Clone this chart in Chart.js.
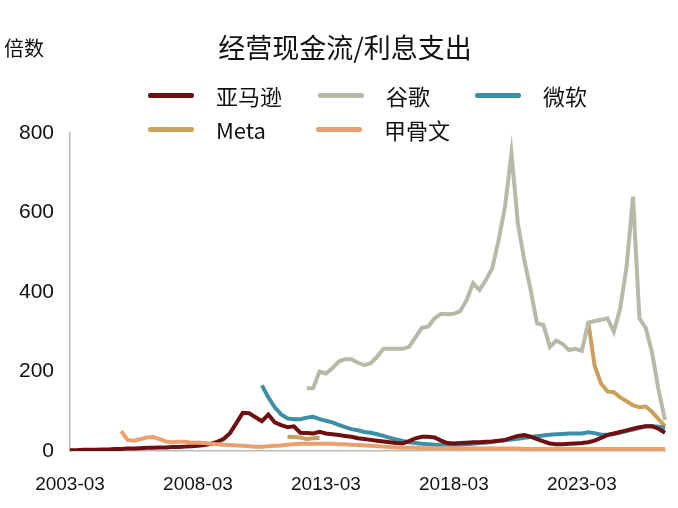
<!DOCTYPE html>
<html><head><meta charset="utf-8">
<script src="https://cdn.jsdelivr.net/npm/chart.js@4"></script>
<style>
body{margin:0;background:#fff;font-family:"Noto Sans CJK SC","Liberation Sans",sans-serif;}
#wrap{position:relative;width:678px;height:508px;}
#title{position:absolute;left:0;width:678px;top:27px;text-align:center;font-size:27px;color:#111;padding-left:12px;box-sizing:border-box}
#unit{position:absolute;left:4px;top:33px;font-size:20px;color:#111}
.lg{position:absolute;font-size:22px;color:#111;display:flex;align-items:center;gap:22px}
.lg i{display:inline-block;width:46px;height:5px;border-radius:2px}
</style></head>
<body><div id="wrap">
<canvas id="c" width="678" height="508"></canvas>
<div id="title">经营现金流/利息支出</div>
<div id="unit">倍数</div>
<div id="legend"></div>
</div>
<script>
// quarterly labels 2003-03 .. 2026-06
const labels = [];
for (let i = 0; i < 94; i++) {
  const y = 2003 + Math.floor(i / 4), m = [3, 6, 9, 12][i % 4];
  labels.push(y + '-' + String(m).padStart(2, '0'));
}
const yTicks = [0, 200, 400, 600, 800];

const amazon = [2,2,3,3,3,4,4,5,5,6,6,7,8,8,9,9,10,10,11,12,13,15,18,23,30,45,70,96,95,85,75,92,72,65,60,62,46,45,44,48,44,42,40,38,36,32,30,28,26,24,22,20,19,25,32,36,36,34,26,20,19,20,21,22,22,23,24,26,28,33,38,40,36,30,24,19,17,17,18,19,20,22,26,33,40,44,48,52,56,60,62,62,56,46];
const google = [...Array(37).fill(null),158,158,200,195,208,225,231,231,222,216,221,237,257,257,257,257,262,286,310,313,334,345,344,345,352,380,422,405,430,460,531,615,749,573,481,405,321,317,262,278,269,254,257,252,323,327,330,334,300,359,464,640,334,309,246,153,78];
const microsoft = [...Array(30).fill(null),165,135,110,92,82,80,80,84,86,80,76,72,66,60,55,52,48,46,42,38,33,29,25,22,20,18,17,16,16,16,16,16,17,18,20,21,23,25,27,29,31,33,35,37,39,41,42,43,44,44,44,47,45,41,41,43,46,50,54,58,62,62,61,58];
const meta = [...Array(34).fill(null),36,35,34,30,32,33,...Array(41).fill(null),325,215,170,150,148,135,125,115,110,112,98,80,62];
const oracle = [...Array(8).fill(null),50,28,26,30,34,35,30,24,22,23,23,21,21,20,18,17,16,15,14,13,12,11,11,12,13,14,16,17,18,18,18,18,18,18,17,17,16,15,14,13,12,11,10,9,8,8,8,7,7,7,7,7,7,6,6,6,6,6,6,6,6,6,6,5,5,5,5,5,5,5,5,5,5,5,5,5,5,5,5,5,5,5,5,5,5,5];

const series = [
  {name:'谷歌', data:google, color:'#B8BAA8'},
  {name:'甲骨文', data:oracle, color:'#E9A06C'},
  {name:'亚马逊', data:amazon, color:'#6E0F10'},
  {name:'微软', data:microsoft, color:'#3C8FA5'},
  {name:'Meta', data:meta, color:'#C9A15A'}
];

// legend
const legPos = [['亚马逊',148,79],['谷歌',318,79],['微软',475,79],['Meta',148,113],['甲骨文',316,113]];
const legEl = document.getElementById('legend');
legPos.forEach(([n, x, y]) => {
  const s = series.find(q => q.name === n);
  const d = document.createElement('div');
  d.className = 'lg';
  d.style.left = x + 'px'; d.style.top = y + 'px';
  d.innerHTML = `<i style="background:${s.color}"></i><span>${n}</span>`;
  legEl.appendChild(d);
});

new Chart(document.getElementById('c'), {
  type: 'line',
  data: {
    labels,
    datasets: series.map(s => ({
      label: s.name, data: s.data, borderColor: s.color, borderWidth: 4,
      pointRadius: 0, tension: 0, spanGaps: false
    }))
  },
  options: {
    responsive: false, animation: false,
    layout: {padding: {top: 133, right: 13, left: 0, bottom: 0}},
    plugins: {legend: {display: false}, tooltip: {enabled: false}},
    scales: {
      x: {
        offset: false,
        grid: {display: false},
        border: {color: '#bbb', width: 1.5},
        ticks: {
          autoSkip: false, maxRotation: 0, color: '#111', font: {size: 19, family: 'Liberation Sans'}, padding: 14,
          callback: (v, i) => i % 20 === 0 ? labels[i] : null
        },
        afterFit: s => { s.height = 57; }
      },
      y: {
        min: 0, max: 800,
        afterBuildTicks: s => { s.ticks = yTicks.map(v => ({value: v})); },
        grid: {display: false},
        border: {color: '#bbb', width: 1.5},
        ticks: {color: '#111', font: {size: 21, family: 'Liberation Sans'}, padding: 8},
        afterFit: s => { s.width = 70; }
      }
    }
  }
});
</script>
</body></html>
